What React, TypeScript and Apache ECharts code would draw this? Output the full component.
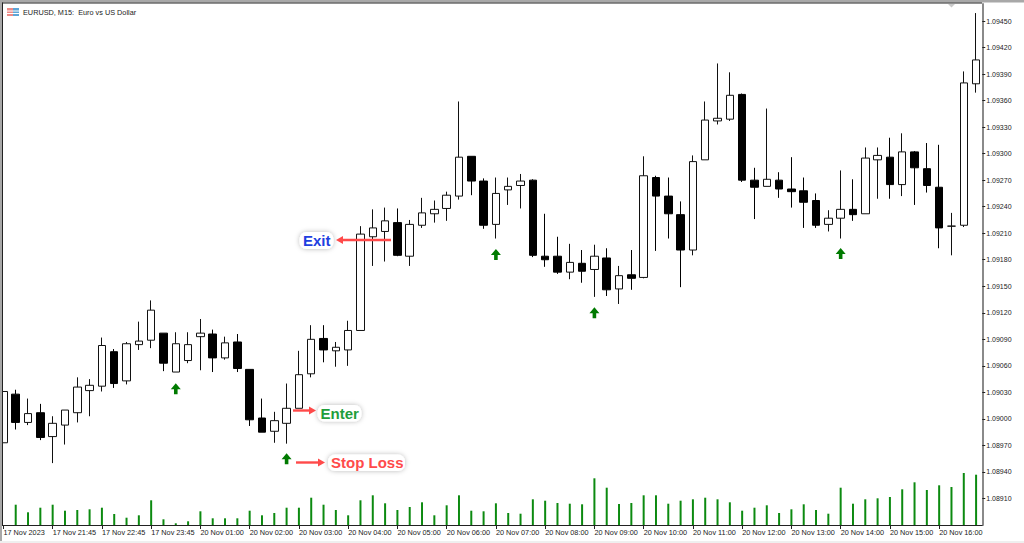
import React, { useEffect, useRef } from "react";
import * as echarts from "echarts";

const tickLabels = [
  "17 Nov 2023", "17 Nov 21:45", "17 Nov 22:45", "17 Nov 23:45",
  "20 Nov 01:00", "20 Nov 02:00", "20 Nov 03:00", "20 Nov 04:00",
  "20 Nov 05:00", "20 Nov 06:00", "20 Nov 07:00", "20 Nov 08:00",
  "20 Nov 09:00", "20 Nov 10:00", "20 Nov 11:00", "20 Nov 12:00",
  "20 Nov 13:00", "20 Nov 14:00", "20 Nov 15:00", "20 Nov 16:00",
];
const priceTicks = [
  1.0945, 1.0942, 1.0939, 1.0936, 1.0933, 1.093, 1.0927, 1.0924, 1.0921, 1.0918,
  1.0915, 1.0912, 1.0909, 1.0906, 1.0903, 1.09, 1.0897, 1.0894, 1.0891,
];
const opens = [
  1.08973, 1.09028, 1.08996, 1.09007, 1.0898, 1.08993, 1.09007, 1.09032, 1.09037, 1.09076,
  1.09043, 1.09084, 1.09089, 1.09097, 1.09053, 1.09066, 1.09093, 1.09096, 1.09069, 1.09087,
  1.09056, 1.09001, 1.08986, 1.08995, 1.09012, 1.09051, 1.09091, 1.09077, 1.09078, 1.091,
  1.09206, 1.09212, 1.09222, 1.09184, 1.09219, 1.09232, 1.09238, 1.09252, 1.09297, 1.09269,
  1.0922, 1.09259, 1.09264, 1.0927, 1.09184, 1.09184, 1.09166, 1.09176, 1.09169, 1.09182,
  1.09147, 1.09163, 1.0916, 1.09273, 1.09252, 1.09231, 1.09191, 1.09293, 1.09337, 1.09339,
  1.09367, 1.0927, 1.09263, 1.0927, 1.0926, 1.09258, 1.09247, 1.0922, 1.09227, 1.09237,
  1.09232, 1.09293, 1.09296, 1.09265, 1.09302, 1.09283, 1.09262, 1.09218, 1.09219, 1.09379,
];
const closes = [
  1.09031, 1.08996, 1.09006, 1.08979, 1.08995, 1.0901, 1.09036, 1.09038, 1.09083, 1.0904,
  1.09085, 1.09088, 1.09123, 1.09063, 1.09085, 1.09084, 1.09097, 1.09069, 1.09086, 1.09057,
  1.08999, 1.08985, 1.08998, 1.09012, 1.0905, 1.0909, 1.09078, 1.09081, 1.091, 1.09209,
  1.09216, 1.09224, 1.09185, 1.0922, 1.09233, 1.09237, 1.09253, 1.09296, 1.09269, 1.09219,
  1.09255, 1.09263, 1.09269, 1.09185, 1.0918, 1.09166, 1.09177, 1.09167, 1.09184, 1.09146,
  1.09162, 1.09159, 1.09275, 1.09252, 1.09232, 1.09191, 1.09291, 1.09338, 1.0934, 1.09366,
  1.0927, 1.09262, 1.09271, 1.0926, 1.09257, 1.09245, 1.09219, 1.09227, 1.09237, 1.09231,
  1.09295, 1.09298, 1.09265, 1.09302, 1.09284, 1.09264, 1.09216, 1.09218, 1.0938, 1.09406,
];
const lows = [
  1.08973, 1.08988, 1.08993, 1.08976, 1.0895, 1.08971, 1.08996, 1.09003, 1.09031, 1.09035,
  1.09039, 1.09078, 1.0908, 1.09054, 1.09053, 1.09063, 1.09055, 1.09053, 1.09067, 1.09053,
  1.08992, 1.08985, 1.08973, 1.08972, 1.09012, 1.09047, 1.09064, 1.09059, 1.0906, 1.091,
  1.09173, 1.09178, 1.09184, 1.09173, 1.09216, 1.09222, 1.09224, 1.09248, 1.09253, 1.09215,
  1.09204, 1.09242, 1.09238, 1.09183, 1.09172, 1.09164, 1.09158, 1.09154, 1.09138, 1.09139,
  1.0913, 1.09146, 1.09159, 1.0919, 1.09204, 1.09149, 1.09185, 1.09293, 1.09333, 1.09337,
  1.09268, 1.09226, 1.09263, 1.0925, 1.09239, 1.09216, 1.09216, 1.09212, 1.09204, 1.09224,
  1.09232, 1.09249, 1.09249, 1.09252, 1.09242, 1.09256, 1.09193, 1.09185, 1.09217, 1.09369,
];
const highs = [
  1.09031, 1.09033, 1.09023, 1.09017, 1.09003, 1.0901, 1.09047, 1.09045, 1.09092, 1.09079,
  1.09087, 1.0911, 1.09134, 1.09097, 1.09098, 1.09098, 1.09113, 1.09101, 1.09093, 1.09096,
  1.09056, 1.09023, 1.09008, 1.0904, 1.09077, 1.09106, 1.09106, 1.09087, 1.09111, 1.09218,
  1.09237, 1.09239, 1.09238, 1.09225, 1.0925, 1.09247, 1.09257, 1.09359, 1.09297, 1.09272,
  1.09273, 1.09273, 1.09277, 1.09271, 1.09232, 1.09206, 1.09198, 1.09191, 1.09197, 1.09193,
  1.09173, 1.09191, 1.09297, 1.09275, 1.09273, 1.09246, 1.09298, 1.09359, 1.09402, 1.09392,
  1.09368, 1.09284, 1.09351, 1.09279, 1.09296, 1.09273, 1.09255, 1.09236, 1.09281, 1.09271,
  1.09307, 1.09307, 1.09318, 1.09323, 1.09303, 1.09312, 1.0931, 1.09233, 1.09393, 1.09459,
];
const volumes = [
  null, 406, 254, 346, 406, 286, 300, 314, 346, 220,
  146, 194, 494, 114, 34, 74, 274, 134, 134, 134,
  286, 194, 240, 346, 346, 546, 406, 300, 194, 494,
  594, 434, 300, 360, 454, 194, 394, 594, 286, 274,
  434, 240, 226, 514, 486, 440, 426, 414, 934, 746,
  420, 440, 594, 594, 426, 486, 514, 546, 514, 454,
  286, 346, 394, 240, 314, 414, 300, 226, 746, 426,
  514, 534, 560, 714, 854, 700, 794, 760, 1040, 1006,
];
const signalBars = [14, 23, 40, 48, 68];
const signalPrices = [1.09034, 1.08955, 1.09186, 1.0912, 1.09187];

const categories = opens.map((_, i) => String(i));
const candles = opens.map((o, i) => [o, closes[i], lows[i], highs[i]]);
const upArrow = "path://M5 0L10 6L6.8 6L6.8 11L3.2 11L3.2 6L0 6Z";
const UI_FONT = "Liberation Sans";
const RED = "#ff4a4a";
const PAD = 10; // the chart box starts PAD px left of the page, so the first bar can be cut by the frame

function frame(): any[] {
  const rect = (x: number, y: number, width: number, height: number, fill: string) => ({
    type: "rect", z: 50, silent: true, shape: { x, y, width, height }, style: { fill },
  });
  return [
    rect(-PAD, 0, 1024 + PAD, 2.4, "#a8a8a8"),
    rect(-PAD, 0, PAD + 2, 543, "#a8a8a8"),
    rect(2, 2.6, 980, 1, "#222222"),
    rect(2, 2.6, 1, 523, "#222222"),
    rect(0, 541, 1024, 2, "#efefef"),
    rect(7, 8, 6, 8, "#ee8a86"),
    rect(13, 8, 6, 8, "#5da5d6"),
    rect(7, 10.5, 12, 1, "#ffffff"),
    rect(7, 13, 12, 1, "#ffffff"),
    { type: "polygon", z: 50, silent: true, shape: { points: [[948, 4], [955, 4], [951.5, 7.5]] }, style: { fill: "#c9c9c9" } },
    { type: "text", z: 50, silent: true, x: 23, y: 12, style: { text: "EURUSD, M15:  Euro vs US Dollar", fill: "#222222", font: `7.3px ${UI_FONT}`, textVerticalAlign: "middle" } },
  ];
}

function tag(text: string, color: string, textX: number, y: number, box: number[]): any[] {
  return [
    {
      type: "rect", z: 60, silent: true,
      shape: { x: box[0], y: box[1], width: box[2], height: box[3], r: 7 },
      style: { fill: "#ffffff", shadowBlur: 5, shadowColor: "rgba(0,0,0,0.28)" },
    },
    {
      type: "text", z: 61, silent: true, x: textX, y,
      style: { text, fill: color, font: `bold 15px ${UI_FONT}`, textVerticalAlign: "middle" },
    },
  ];
}

function redArrow(x1: number, x2: number, y: number): any[] {
  const dir = x2 > x1 ? 1 : -1;
  return [
    { type: "line", z: 60, silent: true, shape: { x1, y1: y, x2: x2 - dir * 5, y2: y }, style: { stroke: RED, lineWidth: 2.4 } },
    { type: "polygon", z: 60, silent: true, shape: { points: [[x2, y], [x2 - dir * 7, y - 4], [x2 - dir * 7, y + 4]] }, style: { fill: RED } },
  ];
}

export default function App() {
  const ref = useRef<HTMLDivElement>(null);
  useEffect(() => {
    const chart = echarts.init(ref.current!, null, { renderer: "svg" });
    chart.setOption({
      animation: false,
      backgroundColor: "#ffffff",
      grid: { left: PAD - 2.75, top: 4, width: 985, height: 521, containLabel: false },
      xAxis: {
        type: "category",
        data: categories,
        boundaryGap: true,
        axisLine: { show: true, onZero: false, lineStyle: { color: "#222222", width: 1 } },
        axisTick: { show: true, alignWithLabel: true, interval: 3, length: 4, lineStyle: { color: "#222222" } },
        axisLabel: {
          interval: 3, align: "left", margin: 4, fontSize: 7.3, fontFamily: UI_FONT, color: "#222222", hideOverlap: false,
          formatter: (_: string, i: number) => tickLabels[i / 4] ?? "",
        },
        splitLine: { show: false },
      },
      yAxis: [
        {
          type: "value",
          position: "right",
          min: 1.0888,
          max: 1.0946925,
          axisLine: { show: true, onZero: false, lineStyle: { color: "#8a8a8a", width: 2 } },
          axisTick: { show: true, length: 3, customValues: priceTicks, lineStyle: { color: "#222222" } },
          axisLabel: {
            customValues: priceTicks, margin: 4, fontSize: 7, fontFamily: UI_FONT, color: "#222222",
            formatter: (v: number) => v.toFixed(5),
          },
          splitLine: { show: false },
        },
        { type: "value", min: 0, max: 10420, show: false, splitLine: { show: false } },
      ],
      graphic: {
        elements: [
          {
            type: "group",
            x: PAD,
            y: 0,
            children: [
              ...frame(),
              ...redArrow(391, 336, 240),
              ...tag("Exit", "#1f3fe0", 303, 240.5, [299.5, 232, 34, 17]),
              ...redArrow(293, 316, 410.5),
              ...tag("Enter", "#1f9e3c", 320.5, 413, [317.5, 405, 44, 16.5]),
              ...redArrow(296, 325, 462.5),
              ...tag("Stop Loss", RED, 331, 462.5, [328, 454.5, 77, 16.5]),
            ],
          },
        ],
      },
      series: [
        {
          type: "bar",
          yAxisIndex: 1,
          data: volumes,
          barWidth: 2,
          itemStyle: { color: "#0c8a10" },
          z: 1,
        },
        {
          type: "candlestick",
          data: candles,
          barWidth: 8,
          itemStyle: {
            color: "#ffffff", color0: "#000000",
            borderColor: "#111111", borderColor0: "#000000", borderColorDoji: "#111111",
            borderWidth: 1,
          },
          z: 2,
        },
        {
          type: "scatter",
          data: signalBars.map((b, i) => [b, signalPrices[i]]),
          symbol: upArrow,
          symbolSize: [10, 11],
          itemStyle: { color: "#007a00", opacity: 1 },
          z: 3,
        },
      ],
    });
    return () => chart.dispose();
  }, []);
  return <div ref={ref} style={{ position: "fixed", left: -PAD, top: 0, width: 1024 + PAD, height: 543 }} />;
}
